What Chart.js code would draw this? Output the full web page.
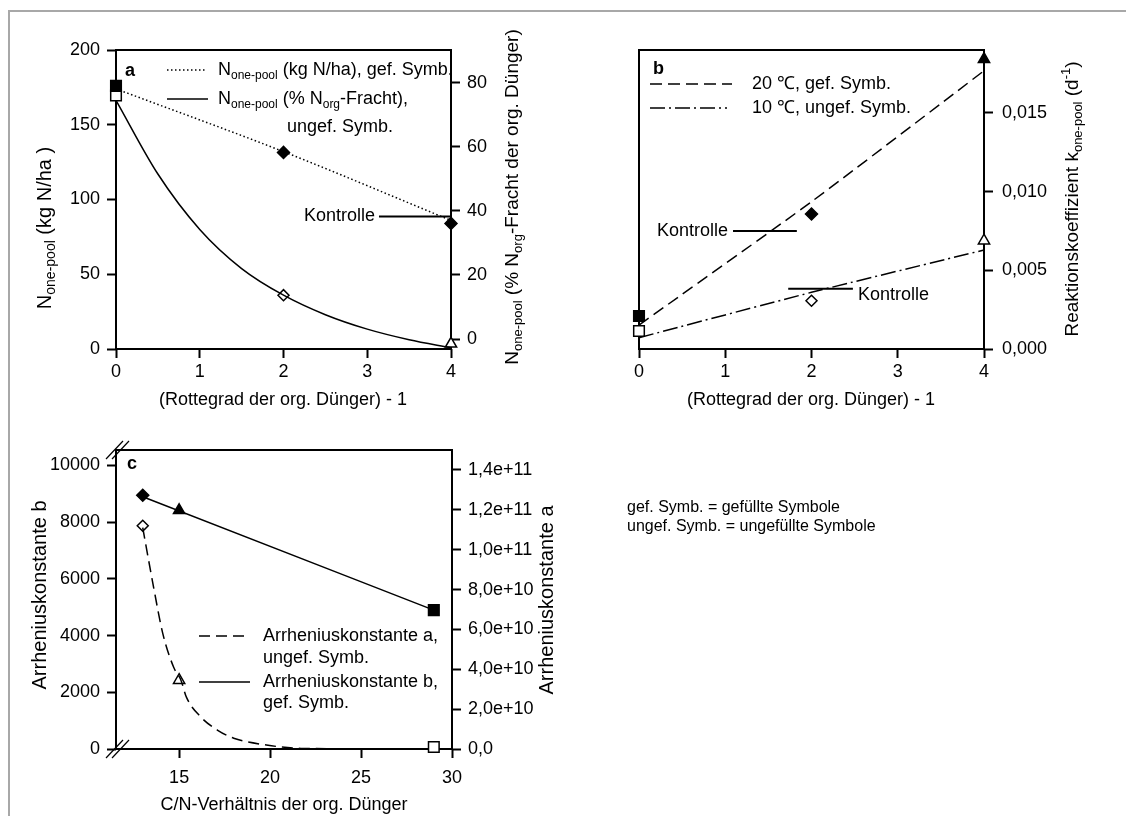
<!DOCTYPE html>
<html>
<head>
<meta charset="utf-8">
<script src="https://cdn.jsdelivr.net/npm/chart.js@4.4.0/dist/chart.umd.min.js"></script>
<style>
html, body { margin: 0; padding: 0; background: #fff; }
#wrap { position: relative; width: 1126px; height: 816px; overflow: hidden; }
#wrap canvas { position: absolute; left: 0; top: 0; }
#rahmen { position: absolute; left: 8px; top: 10px; width: 1300px; height: 900px;
          border-top: 2px solid #a8a8a8; border-left: 2px solid #a8a8a8; }
</style>
</head>
<body>
<div id="wrap">
  <div id="rahmen"></div>
  <canvas id="chartA" width="1126" height="816"></canvas>
  <canvas id="chartB" width="1126" height="816"></canvas>
  <canvas id="chartC" width="1126" height="816"></canvas>
</div>
<script>
const FONT = 'Arial, "Liberation Sans", Helvetica, sans-serif';
Chart.defaults.font.family = FONT;
Chart.defaults.font.size = 18;
Chart.defaults.color = "#000";

// ----------------------------
// Daten Teil a
// ----------------------------
const rotteGrad = [0, 2, 4];
const nKgGef = [176, 131.5, 84];            // kg N/ha, linke Achse
const nProzUngef = [76, 13.7, -1.5];        // % Norg-Fracht, rechte Achse
const fitKgX = [0, 2, 4];
const fitKgY = [174, 132, 86];
const fitProzX = [0, 0.5, 1, 1.5, 2, 2.5, 3, 3.5, 4];
const fitProzY = [74.5, 51.5, 34.2, 22, 13.7, 7.6, 3.1, -0.2, -2.7];
const kontrolleAX = [3.14, 4];
const kontrolleA = 88.7;
const ticksAx = [0, 1, 2, 3, 4];
const ticksAy = [0, 50, 100, 150, 200];
const ticksAy2 = [0, 20, 40, 60, 80];

// ----------------------------
// Daten Teil b
// ----------------------------
const k20Gef = [0.0021, 0.00858, 0.01842];
const k10Ungef = [0.00114, 0.00307, 0.00688];
const fit20X = [0, 2, 4];
const fit20Y = [0.00152, 0.00936, 0.01768];
const fit10X = [0, 2, 4];
const fit10Y = [0.00072, 0.0036, 0.00629];
const kontrolle20X = [1.09, 1.83];
const kontrolle20 = 0.0075;
const kontrolle10X = [1.73, 2.48];
const kontrolle10 = 0.00383;
const ticksBy = [0, 0.005, 0.010, 0.015];

// ----------------------------
// Daten Teil c
// ----------------------------
const cnVerh = [13, 15, 29];
const arrBGef = [8950, 8420, 4900];
const arrAUngef = [1.12e11, 3.45e10, 1e9];
const fitBX = [13, 29];
const fitBY = [8900, 4900];
const fitAX = [13, 13.6, 14.1, 14.7, 15.1, 15.4, 16.2, 17.1, 18, 19.8, 21.7, 29];
const fitAY = [1.11e11, 8.1e10, 5.8e10, 4.1e10, 3.45e10, 2.6e10, 1.6e10, 9.5e9, 5.4e9, 2e9, 3e8, 0];
const ticksCx = [15, 20, 25, 30];
const ticksCy = [0, 2000, 4000, 6000, 8000, 10000];
const ticksCy2 = [0, 2e10, 4e10, 6e10, 8e10, 1e11, 1.2e11, 1.4e11];

const pts = (xs, ys) => xs.map((x, i) => ({ x: x, y: ys[i] }));
const hLinie = (xs, y) => xs.map(x => ({ x: x, y: y }));

const komma = (v, d) => v.toFixed(d).replace(".", ",");
function expFmt(v) {
    if (v === 0) return "0,0";
    const e = Math.floor(Math.log10(v) + 1e-9);
    return komma(v / Math.pow(10, e), 1) + "e+" + e;
}

function tickGrid() {
    return { display: true, drawOnChartArea: false, drawTicks: true,
             tickLength: 9, tickWidth: 2, tickColor: "#000" };
}

function achse(pos, min, max, tickWerte, size, fmt, pad) {
    return {
        type: "linear", position: pos, min: min, max: max,
        grid: tickGrid(), border: { display: false },
        ticks: { padding: pad, maxRotation: 0, autoSkip: false, color: "#000", callback: fmt },
        afterBuildTicks: s => { s.ticks = tickWerte.map(v => ({ value: v })); },
        afterFit: s => { if (pos === "bottom") s.height = size; else s.width = size; }
    };
}

function linie(data, yAxis, dash, extra) {
    return Object.assign({ data: data, yAxisID: yAxis, showLine: true, pointRadius: 0,
        borderColor: "#000", borderWidth: 1.5, borderDash: dash, fill: false,
        cubicInterpolationMode: "monotone", clip: false }, extra || {});
}

function symbole(data, yAxis, styles, radien, gefuellt) {
    return { data: data, yAxisID: yAxis, showLine: false, clip: false,
        pointStyle: styles, pointRadius: radien,
        pointBackgroundColor: gefuellt ? "#000" : "#fff",
        pointBorderColor: "#000", pointBorderWidth: 1.5 };
}

// Text mit Tief-/Hochstellung: teile = [[text, 0|1|2]]
function txt(ctx, teile, x, y, o) {
    o = o || {};
    const gr = o.size || 18;
    const gross = (o.bold ? "bold " : "") + gr + "px " + FONT;
    const klein = Math.round(gr * 0.68) + "px " + FONT;
    let w = 0;
    teile.forEach(t => { ctx.font = t[1] ? klein : gross; w += ctx.measureText(t[0]).width; });
    ctx.save();
    ctx.translate(x, y);
    if (o.rot) ctx.rotate(o.rot);
    let cx = o.align === "center" ? -w / 2 : (o.align === "right" ? -w : 0);
    ctx.textBaseline = "middle";
    ctx.textAlign = "left";
    ctx.fillStyle = "#000";
    teile.forEach(t => {
        ctx.font = t[1] ? klein : gross;
        const dy = t[1] === 1 ? gr * 0.3 : (t[1] === 2 ? -gr * 0.35 : 0);
        ctx.fillText(t[0], cx, dy);
        cx += ctx.measureText(t[0]).width;
    });
    ctx.restore();
}

function muster(ctx, x1, x2, y, dash) {
    ctx.save();
    ctx.strokeStyle = "#000";
    ctx.lineWidth = 1.5;
    ctx.setLineDash(dash);
    ctx.beginPath();
    ctx.moveTo(x1, y);
    ctx.lineTo(x2, y);
    ctx.stroke();
    ctx.restore();
}

function deko(zeichne) {
    return {
        id: "deko",
        beforeDatasetsDraw(chart) {
            const a = chart.chartArea, ctx = chart.ctx;
            ctx.save();
            ctx.strokeStyle = "#000";
            ctx.lineWidth = 2;
            ctx.strokeRect(a.left, a.top, a.right - a.left, a.bottom - a.top);
            ctx.restore();
        },
        afterDraw(chart) { zeichne(chart.ctx, chart); }
    };
}

const basisOpt = (padding, scales) => ({
    responsive: false, animation: false, events: [],
    layout: { padding: padding },
    plugins: { legend: { display: false }, tooltip: { enabled: false } },
    scales: scales
});

const DOT = [1.5, 2.5], DASH_B = [12, 6], DASHDOT = [15, 4, 2, 4], DASH_C = [11, 6];
const ROT = -Math.PI / 2;

// ----------------------------
// Teil a
// ----------------------------
new Chart(document.getElementById("chartA"), {
    type: "line",
    data: { datasets: [
        linie(pts(fitKgX, fitKgY), "y", DOT),
        linie(pts(fitProzX, fitProzY), "y2", []),
        linie(hLinie(kontrolleAX, kontrolleA), "y", [], { borderWidth: 2 }),
        symbole(pts(rotteGrad, nKgGef), "y", ["rect", "rectRot", "rectRot"], [7.5, 6, 6], true),
        symbole(pts(rotteGrad, nProzUngef), "y2", ["rect", "rectRot", "triangle"], [7.5, 5.5, 6.5], false)
    ] },
    options: basisOpt({ top: 50, left: 0, right: 0, bottom: 0 }, {
        x: achse("bottom", 0, 4, ticksAx, 816 - 349, v => String(v), 3),
        y: achse("left", 0, 200, ticksAy, 116, v => String(v), 7),
        y2: achse("right", -3.1, 90.2, ticksAy2, 1126 - 451, v => String(v), 7)
    }),
    plugins: [deko((ctx, ch) => {
        txt(ctx, [["a"]], 125, 71, { bold: true });
        muster(ctx, 167, 205, 70, DOT);
        txt(ctx, [["N"], ["one-pool", 1], [" (kg N/ha), gef. Symb."]], 218, 70);
        muster(ctx, 167, 208, 99, []);
        txt(ctx, [["N"], ["one-pool", 1], [" (% N"], ["org", 1], ["-Fracht),"]], 218, 99);
        txt(ctx, [["ungef. Symb."]], 287, 127);
        txt(ctx, [["Kontrolle"]], ch.scales.x.getPixelForValue(kontrolleAX[0]) - 4,
            ch.scales.y.getPixelForValue(kontrolleA), { align: "right" });
        txt(ctx, [["N"], ["one-pool", 1], [" (kg N/ha )"]], 45, 228, { rot: ROT, align: "center", size: 20 });
        txt(ctx, [["N"], ["one-pool", 1], [" (% N"], ["org", 1], ["-Fracht der org. Dünger)"]],
            513, 197, { rot: ROT, align: "center", size: 19 });
        txt(ctx, [["(Rottegrad der org. Dünger) - 1"]], 283, 400, { align: "center" });
    })]
});

// ----------------------------
// Teil b
// ----------------------------
new Chart(document.getElementById("chartB"), {
    type: "line",
    data: { datasets: [
        linie(pts(fit20X, fit20Y), "y", DASH_B, { tension: 0.2, cubicInterpolationMode: "default" }),
        linie(pts(fit10X, fit10Y), "y", DASHDOT, { tension: 0.2, cubicInterpolationMode: "default" }),
        linie(hLinie(kontrolle20X, kontrolle20), "y", [], { borderWidth: 2 }),
        linie(hLinie(kontrolle10X, kontrolle10), "y", [], { borderWidth: 2 }),
        symbole(pts(rotteGrad, k20Gef), "y", ["rect", "rectRot", "triangle"], [7.5, 6, 6.5], true),
        symbole(pts(rotteGrad, k10Ungef), "y", ["rect", "rectRot", "triangle"], [7.5, 5.5, 6.5], false)
    ] },
    options: basisOpt({ top: 50, left: 639, right: 0, bottom: 0 }, {
        x: achse("bottom", 0, 4, ticksAx, 816 - 349, v => String(v), 3),
        y: achse("right", 0, 0.019, ticksBy, 1126 - 984, v => komma(v, 3), 9)
    }),
    plugins: [deko((ctx, ch) => {
        txt(ctx, [["b"]], 653, 69, { bold: true });
        muster(ctx, 650, 732, 84, DASH_B);
        txt(ctx, [["20 ℃, gef. Symb."]], 752, 84);
        muster(ctx, 650, 727, 108, DASHDOT);
        txt(ctx, [["10 ℃, ungef. Symb."]], 752, 108);
        const xs = ch.scales.x, ys = ch.scales.y;
        txt(ctx, [["Kontrolle"]], xs.getPixelForValue(kontrolle20X[0]) - 5,
            ys.getPixelForValue(kontrolle20), { align: "right" });
        txt(ctx, [["Kontrolle"]], xs.getPixelForValue(kontrolle10X[1]) + 5,
            ys.getPixelForValue(kontrolle10) + 6);
        txt(ctx, [["Reaktionskoeffizient k"], ["one-pool", 1], [" (d"], ["-1", 2], [")"]],
            1073, 199, { rot: ROT, align: "center", size: 19 });
        txt(ctx, [["(Rottegrad der org. Dünger) - 1"]], 811, 400, { align: "center" });
    })]
});

// ----------------------------
// Teil c
// ----------------------------
new Chart(document.getElementById("chartC"), {
    type: "line",
    data: { datasets: [
        linie(pts(fitAX, fitAY), "y2", DASH_C),
        linie(pts(fitBX, fitBY), "y", []),
        symbole(pts(cnVerh, arrBGef), "y", ["rectRot", "triangle", "rect"], [6, 6.5, 7.5], true),
        symbole(pts(cnVerh, arrAUngef), "y2", ["rectRot", "triangle", "rect"], [5.5, 6.5, 7.5], false)
    ] },
    options: basisOpt({ top: 450, left: 0, right: 0, bottom: 0 }, {
        x: achse("bottom", 11.53, 30, ticksCx, 816 - 749, v => String(v), 9),
        y: achse("left", 0, 10547, ticksCy, 116, v => String(v), 7),
        y2: achse("right", 0, 1.5e11, ticksCy2, 1126 - 452, expFmt, 7)
    }),
    plugins: [deko((ctx, ch) => {
        txt(ctx, [["c"]], 127, 464, { bold: true });
        // Achsenbruch
        const a = ch.chartArea;
        ctx.save();
        ctx.strokeStyle = "#000";
        ctx.lineWidth = 1.2;
        [a.top, a.bottom].forEach(y => {
            [-3, 3].forEach(dx => {
                ctx.beginPath();
                ctx.moveTo(a.left + dx - 7, y + 9);
                ctx.lineTo(a.left + dx + 10, y - 9);
                ctx.stroke();
            });
        });
        ctx.restore();
        muster(ctx, 199, 245, 636, DASH_C);
        txt(ctx, [["Arrheniuskonstante a,"]], 263, 636);
        txt(ctx, [["ungef. Symb."]], 263, 658);
        muster(ctx, 199, 250, 682, []);
        txt(ctx, [["Arrheniuskonstante b,"]], 263, 682);
        txt(ctx, [["gef. Symb."]], 263, 703);
        txt(ctx, [["Arrheniuskonstante b"]], 40, 595, { rot: ROT, align: "center", size: 20 });
        txt(ctx, [["Arrheniuskonstante a"]], 547, 600, { rot: ROT, align: "center", size: 20 });
        txt(ctx, [["C/N-Verhältnis der org. Dünger"]], 284, 805, { align: "center" });
        txt(ctx, [["gef. Symb. = gefüllte Symbole"]], 627, 508, { size: 16 });
        txt(ctx, [["ungef. Symb. = ungefüllte Symbole"]], 627, 527, { size: 16 });
    })]
});
</script>
</body>
</html>
